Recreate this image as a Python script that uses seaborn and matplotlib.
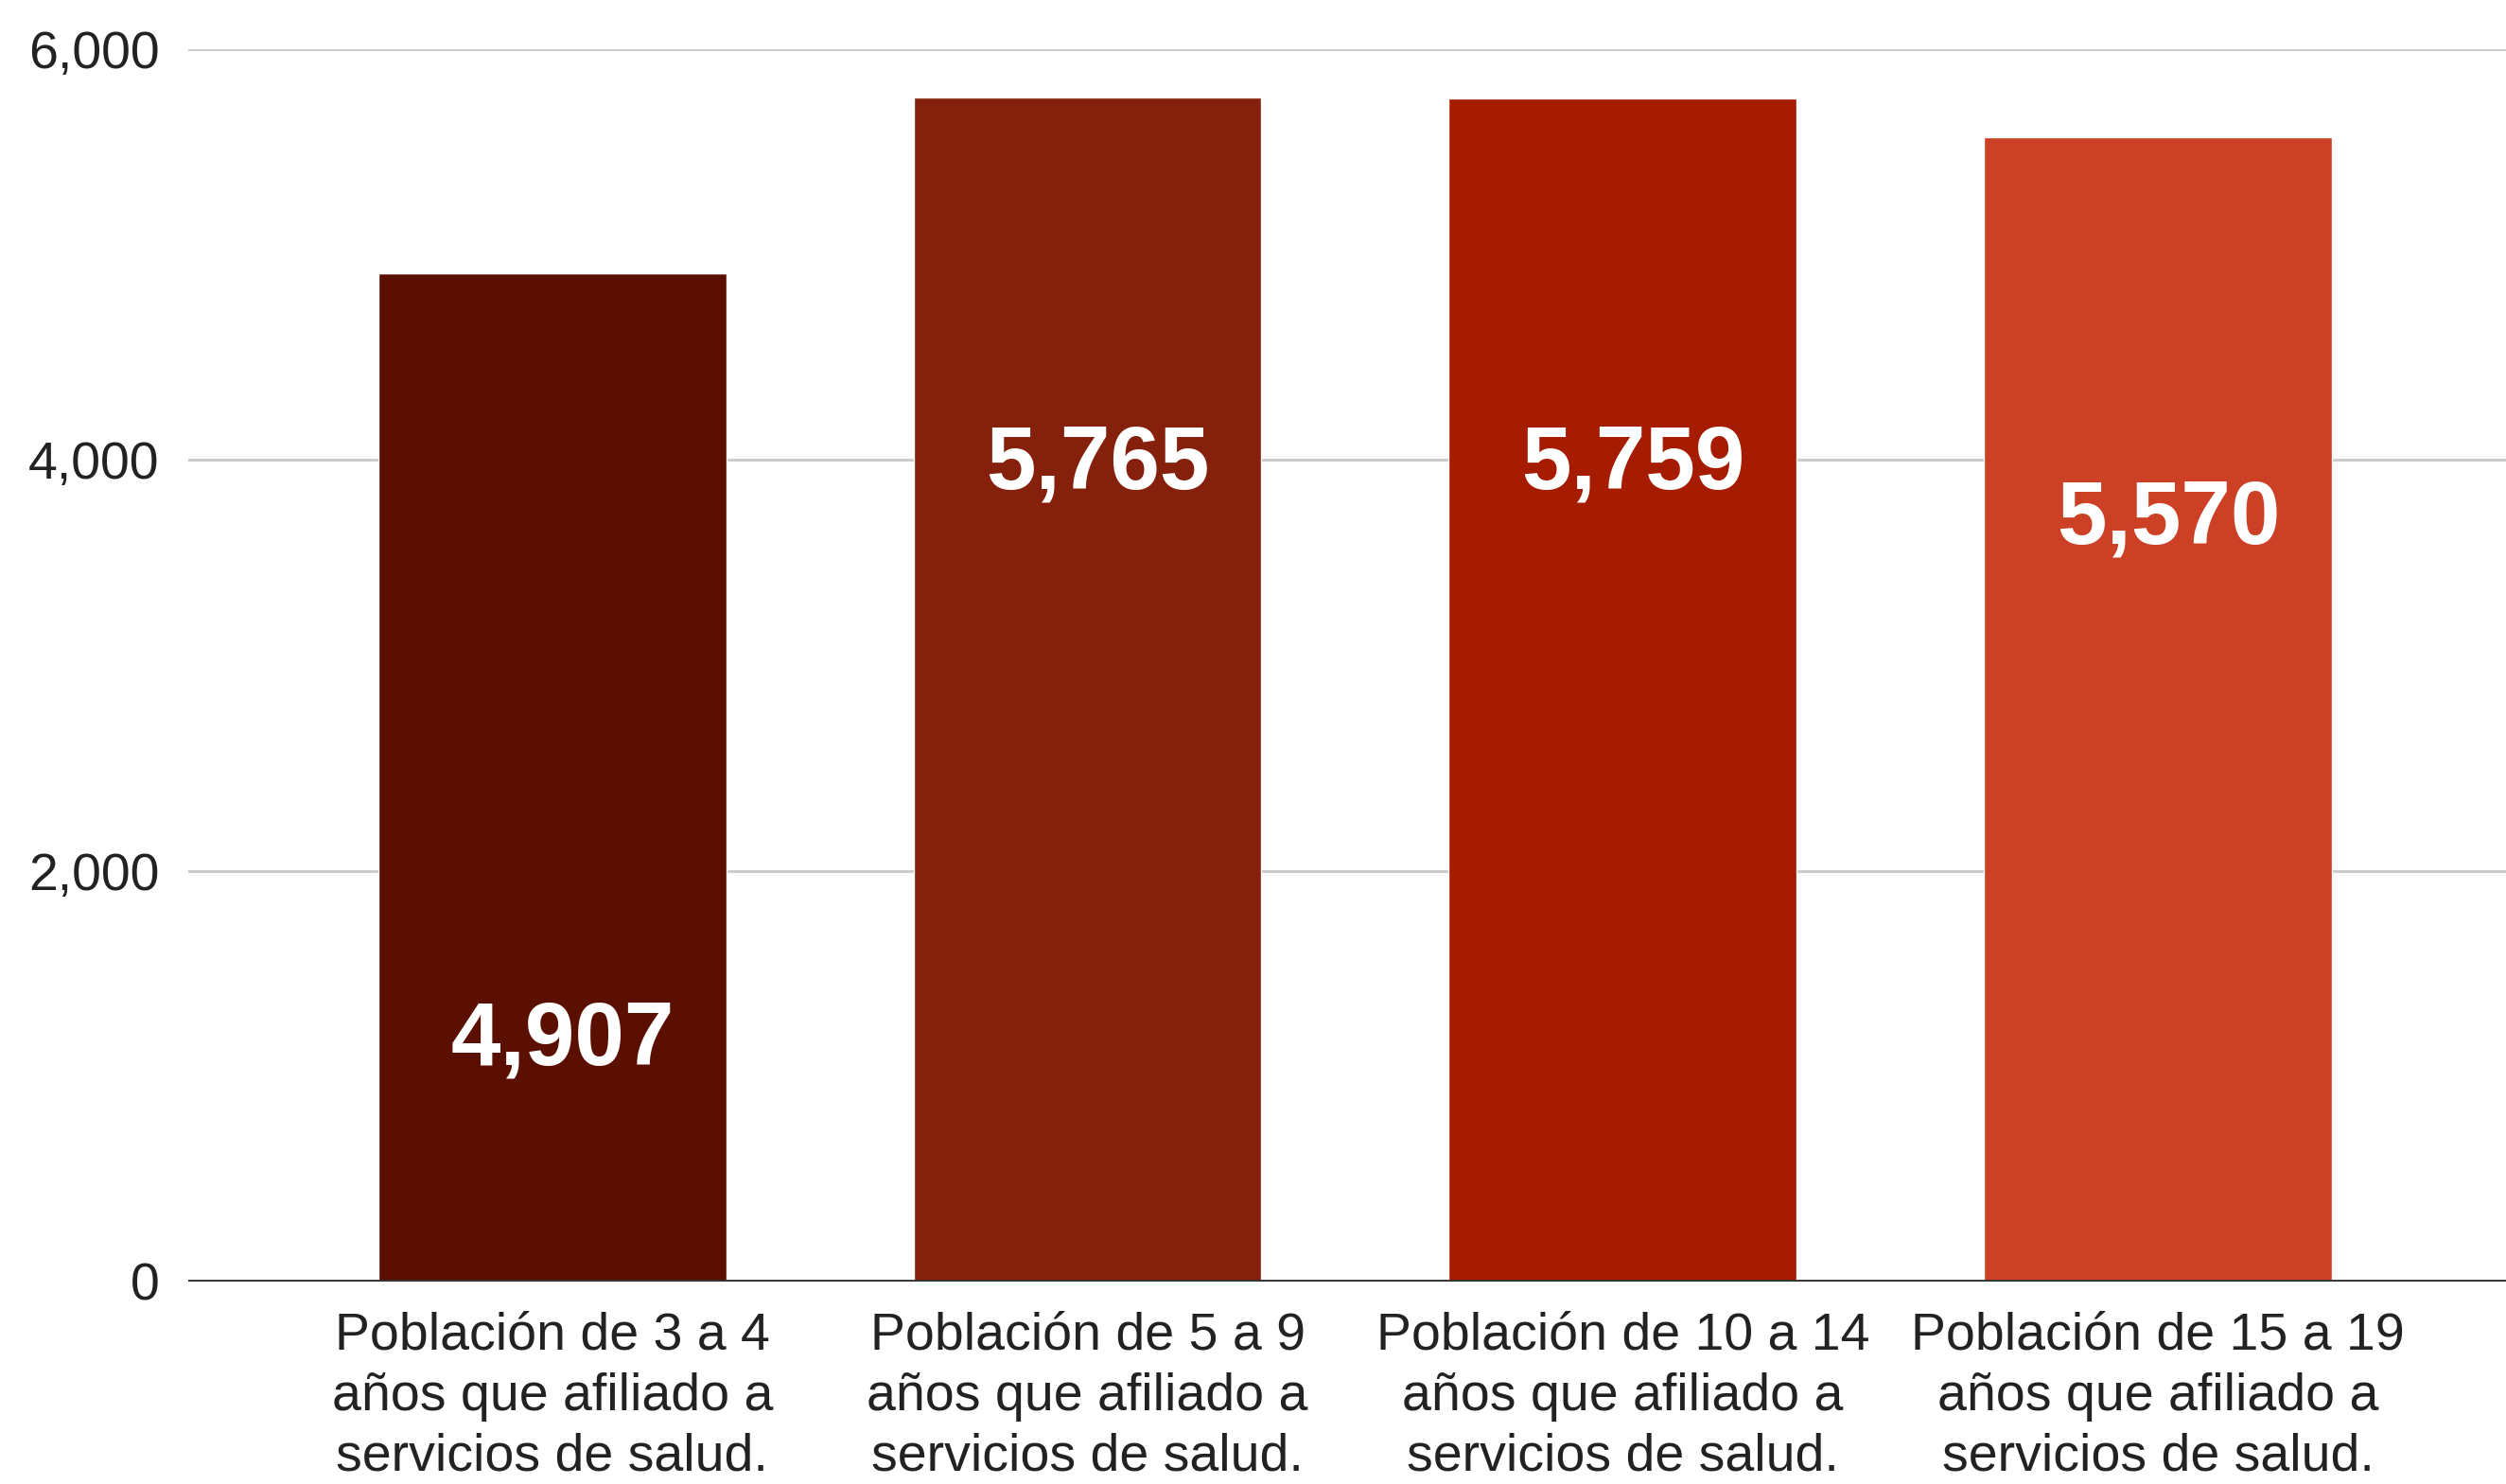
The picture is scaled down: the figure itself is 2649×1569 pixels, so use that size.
import matplotlib
matplotlib.use("Agg")
import matplotlib.pyplot as plt
import seaborn as sns
import pandas as pd

# ===============================
# DATA
# ===============================
categories = [
    "Población de 3 a 4\naños que afiliado a\nservicios de salud.",
    "Población de 5 a 9\naños que afiliado a\nservicios de salud.",
    "Población de 10 a 14\naños que afiliado a\nservicios de salud.",
    "Población de 15 a 19\naños que afiliado a\nservicios de salud.",
]
values = [4907, 5765, 5759, 5570]
value_labels = ["4,907", "5,765", "5,759", "5,570"]
label_y = [1170, 3975, 3975, 3705]   # where the sheet put the labels
y_ticks = [0, 2000, 4000, 6000]
y_ticklabels = ["0", "2,000", "4,000", "6,000"]
colors = ["#5b0f00", "#85200c", "#a61c00", "#cc4125"]

df = pd.DataFrame({"cat": categories, "val": values})

# ===============================
# STYLE
# ===============================
sns.set_style("white")
plt.rcParams["font.family"] = ["Liberation Sans", "DejaVu Sans"]

fig = plt.figure(figsize=(26.49, 15.69), dpi=100)
ax = fig.add_axes([0.0751, 0.1364, 0.9249, 0.8305])

sns.barplot(
    data=df, x="cat", y="val", hue="cat",
    palette=colors, legend=False, width=0.65,
    saturation=1, ax=ax
)

ax.set_ylim(0, 6000)
ax.set_xlim(-0.68, 3.65)
ax.set_yticks(y_ticks)
ax.set_yticklabels(y_ticklabels)
ax.yaxis.grid(True, color="#cccccc", linewidth=2.2)
ax.set_axisbelow(True)
for s in ax.spines.values():
    s.set_visible(False)
ax.axhline(0, color="#333333", linewidth=3.5, zorder=5)

ax.tick_params(axis="both", length=0, labelsize=40, colors="#222222")
ax.tick_params(axis="y", pad=22)
ax.tick_params(axis="x", pad=23)
for t in ax.get_xticklabels():
    t.set_multialignment("center")
    t.set_linespacing(1.3)

ax.set_xlabel("")
ax.set_ylabel("")

# value labels, nudged a bit right like the sheet does
for i, (lab, yy) in enumerate(zip(value_labels, label_y)):
    ax.annotate(lab, xy=(i, yy), xytext=(8, 0), textcoords="offset points",
                ha="center", va="center", color="white",
                fontsize=68, fontweight="bold", zorder=6)

plt.savefig("out.png", dpi=100)
plt.close()
